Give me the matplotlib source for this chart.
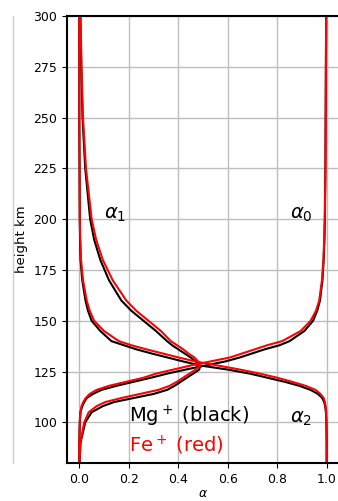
import matplotlib
matplotlib.use('Agg')
import matplotlib.pyplot as plt
from matplotlib.lines import Line2D

# height grid (km)
height = [80, 90, 100, 105, 108, 110, 112, 114, 116, 118, 120, 122, 124, 126, 128, 130,
          132, 134, 136, 138, 140, 145, 150, 155, 160, 170, 180, 190, 200, 225, 250, 275, 300]

# Mg+ (black)
mg_a0 = [0.0, 0.0, 0.002, 0.005, 0.012, 0.02, 0.03, 0.055, 0.09, 0.15, 0.22, 0.29, 0.355, 0.43,
         0.51, 0.59, 0.65, 0.70, 0.75, 0.81, 0.85, 0.91, 0.945, 0.962, 0.973, 0.983, 0.988,
         0.991, 0.993, 0.995, 0.996, 0.997, 0.998]
mg_a1 = [0.001, 0.005, 0.024, 0.05, 0.095, 0.14, 0.22, 0.30, 0.355, 0.385, 0.41, 0.435, 0.46,
         0.485, 0.488, 0.47, 0.45, 0.425, 0.40, 0.375, 0.355, 0.31, 0.26, 0.21, 0.17, 0.12,
         0.085, 0.06, 0.044, 0.024, 0.013, 0.008, 0.004]
mg_a2 = [1.0, 1.0, 0.999, 0.997, 0.994, 0.99, 0.982, 0.965, 0.935, 0.89, 0.83, 0.76, 0.69, 0.6,
         0.49, 0.42, 0.355, 0.29, 0.23, 0.18, 0.13, 0.085, 0.05, 0.035, 0.025, 0.012, 0.005,
         0.003, 0.002, 0.001, 0.0, 0.0, 0.0]

# Fe+ (red)
fe_a0 = [0.0, 0.0, 0.002, 0.004, 0.009, 0.016, 0.026, 0.042, 0.07, 0.12, 0.19, 0.26, 0.31, 0.38,
         0.45, 0.53, 0.61, 0.66, 0.71, 0.76, 0.82, 0.895, 0.935, 0.957, 0.97, 0.981, 0.987,
         0.99, 0.992, 0.995, 0.996, 0.997, 0.998]
fe_a1 = [0.001, 0.004, 0.02, 0.038, 0.07, 0.105, 0.17, 0.245, 0.32, 0.365, 0.395, 0.42, 0.445,
         0.47, 0.49, 0.48, 0.465, 0.44, 0.42, 0.395, 0.37, 0.33, 0.28, 0.23, 0.19, 0.135,
         0.095, 0.068, 0.05, 0.027, 0.015, 0.009, 0.005]
fe_a2 = [1.0, 1.0, 0.999, 0.998, 0.996, 0.993, 0.988, 0.975, 0.955, 0.915, 0.86, 0.8, 0.73, 0.65,
         0.56, 0.47, 0.4, 0.335, 0.27, 0.21, 0.16, 0.1, 0.06, 0.042, 0.03, 0.015, 0.007,
         0.004, 0.002, 0.001, 0.0, 0.0, 0.0]

xticks = [0.0, 0.2, 0.4, 0.6, 0.8, 1.0]
yticks = [100, 125, 150, 175, 200, 225, 250, 275, 300]

fig = plt.figure(figsize=(3.38, 5.01), dpi=100)
ax = fig.add_axes([0.198, 0.0758, 0.805, 0.892])

for a in (mg_a0, mg_a1, mg_a2):
    ax.plot(a, height, color='black', lw=1.5)
for a in (fe_a0, fe_a1, fe_a2):
    ax.plot(a, height, color='red', lw=1.5)

ax.set_xlim(-0.05, 1.05)
ax.set_ylim(80, 300)
ax.set_xticks(xticks)
ax.set_yticks(yticks)
ax.tick_params(labelsize=9)
ax.grid(True, color='#bdbdbd', lw=1)
for s in ax.spines.values():
    s.set_linewidth(1.5)

ax.set_ylabel('height km', fontsize=9.5, labelpad=4)
ax.set_xlabel(r'$\alpha$', fontsize=9, labelpad=1)

ax.text(0.1, 200.5, r'$\alpha_1$', fontsize=14, va='baseline')
ax.text(0.85, 200.5, r'$\alpha_0$', fontsize=14, va='baseline')
ax.text(0.85, 100, r'$\alpha_2$', fontsize=14, va='baseline')
ax.text(0.2, 100, r'Mg$^+$ (black)', fontsize=14, va='baseline', color='black')
ax.text(0.2, 85.4, r'Fe$^+$ (red)', fontsize=14, va='baseline', color='red')

# faint vertical line at the left edge
fig.add_artist(Line2D([0.039, 0.039], [0.0758, 0.968], transform=fig.transFigure,
                      color='#cccccc', lw=1))

fig.savefig('out.png', dpi=100)
